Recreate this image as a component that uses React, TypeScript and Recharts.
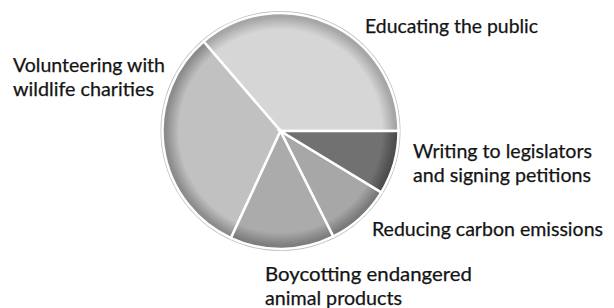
import { PieChart, Pie, Cell } from "recharts";

// slices in drawing order, counter-clockwise from 3 o'clock
const categories = [
  "Educating the public",
  "Volunteering with wildlife charities",
  "Boycotting endangered animal products",
  "Reducing carbon emissions",
  "Writing to legislators and signing petitions",
];
const shares = [36.3, 31.8, 14.3, 8.9, 8.7];
const labelText = [
  ["Educating the public"],
  ["Volunteering with", "wildlife charities"],
  ["Boycotting endangered", "animal products"],
  ["Reducing carbon emissions"],
  ["Writing to legislators", "and signing petitions"],
];

const baseColors = ["#d6d6d6", "#c1c1c1", "#ababab", "#a7a7a7", "#717171"];
const rimColors = ["#a6a6a6", "#8c8c8c", "#7e7e7e", "#7a7a7a", "#4e4e4e"];

// label placement: left x, first baseline, line widths
const labelPos = [
  { x: 365, y: 33, w: [173] },
  { x: 13, y: 72, w: [152, 141] },
  { x: 265, y: 281, w: [207, 137] },
  { x: 372, y: 236, w: [231] },
  { x: 413, y: 158, w: [179, 178] },
];

const data = categories.map((name, i) => ({ name, value: shares[i] }));
const ring = [{ name: "rim", value: 1 }];

const CX = 280.5;
const CY = 131;
const R = 118;

const renderLabel = (props: any) => {
  const i = props.index;
  const p = labelPos[i];
  return (
    <text
      key={`lbl-${i}`}
      x={p.x}
      y={p.y}
      fill="#141414"
      stroke="#141414"
      strokeWidth={0.25}
      fontFamily="Lato, 'Open Sans', sans-serif"
      fontSize={19}
    >
      {labelText[i].map((line, j) => (
        <tspan
          key={j}
          x={p.x}
          y={p.y + j * 23.5}
          textLength={p.w[j]}
          lengthAdjust="spacingAndGlyphs"
        >
          {line}
        </tspan>
      ))}
    </text>
  );
};

export default function App() {
  return (
    <div style={{ position: "absolute", left: 0, top: 0, width: 614, height: 308, background: "#fff" }}>
      <PieChart width={614} height={308} margin={{ top: 0, right: 0, bottom: 0, left: 0 }}>
        <defs>
          {baseColors.map((c, i) => (
            <radialGradient
              key={i}
              id={`g${i}`}
              gradientUnits="userSpaceOnUse"
              cx={CX}
              cy={CY}
              r={R}
            >
              <stop offset="0%" stopColor={c} />
              <stop offset="86%" stopColor={c} />
              <stop offset="97%" stopColor={rimColors[i]} />
              <stop offset="100%" stopColor={rimColors[i]} />
            </radialGradient>
          ))}
        </defs>
        <Pie
          data={ring}
          dataKey="value"
          cx={CX}
          cy={CY}
          innerRadius={R + 0.5}
          outerRadius={R + 2}
          fill="#bdbdbd"
          stroke="none"
          isAnimationActive={false}
        />
        <Pie
          data={data}
          dataKey="value"
          nameKey="name"
          cx={CX}
          cy={CY}
          outerRadius={R}
          startAngle={0}
          endAngle={360}
          stroke="#ffffff"
          strokeWidth={2.5}
          label={renderLabel}
          labelLine={false}
          isAnimationActive={false}
        >
          {data.map((d, i) => (
            <Cell key={d.name} fill={`url(#g${i})`} />
          ))}
        </Pie>
      </PieChart>
    </div>
  );
}
